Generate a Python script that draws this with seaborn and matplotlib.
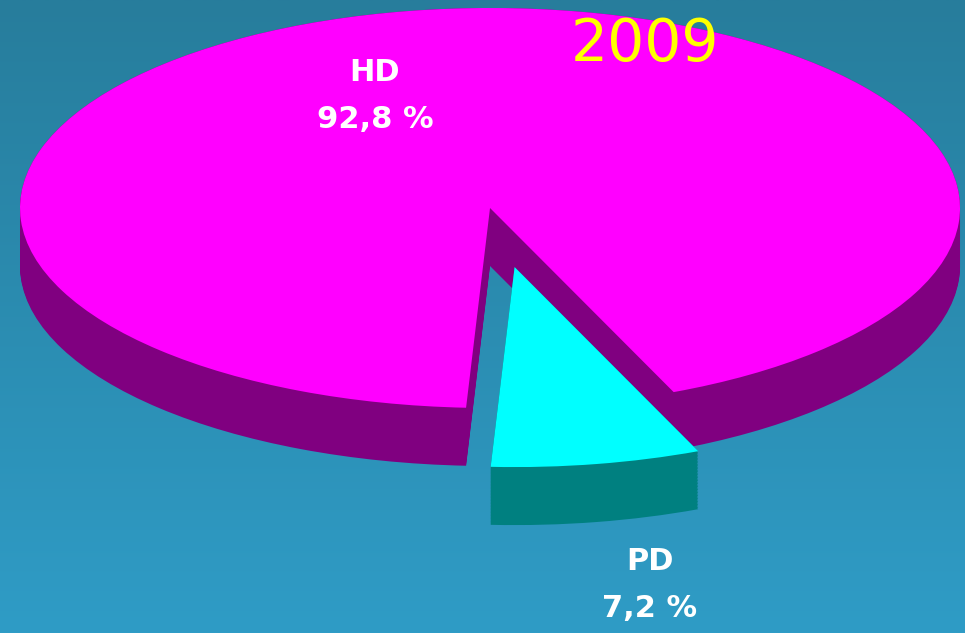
import numpy as np
import matplotlib
matplotlib.use("Agg")
import matplotlib.pyplot as plt
import seaborn as sns

sns.set_theme(style="white")

# data
categories = ["HD", "PD"]
shares = [92.8, 7.2]
share_labels = ["92,8 %", "7,2 %"]
year = "2009"

top_colors = ["#FF00FF", "#00FFFF"]
side_colors = ["#800080", "#008080"]
explode = [0, 0.3]

fig = plt.figure(figsize=(9.65, 6.33), dpi=100)
ax = fig.add_axes([0, 0, 1, 1])

# background gradient (darker teal on top, lighter blue at the bottom)
grad = np.linspace(0, 1, 256)[:, None]
cmap = matplotlib.colors.LinearSegmentedColormap.from_list(
    "bg", ["#2F9CC6", "#277D9C"])
xlim = (-1.0426, 1.0106)
ylim = (-2.125, 1.04)
ax.imshow(grad, cmap=cmap, aspect="auto", extent=(*xlim, *ylim),
          zorder=0, origin="lower")

# 3d look: stack the pie downwards for the side walls, then the top face
depth = 0.29
n_layers = 40
for d in np.linspace(depth, 0.0, n_layers):
    ax.pie(shares, explode=explode, startangle=-67, radius=1.0,
           center=(0, -d), colors=side_colors,
           wedgeprops=dict(linewidth=0), frame=True)
ax.pie(shares, explode=explode, startangle=-67, radius=1.0,
       center=(0, 0), colors=top_colors,
       wedgeprops=dict(linewidth=0), frame=True)

ax.set_aspect("auto")
ax.set_xlim(*xlim)
ax.set_ylim(*ylim)
ax.axis("off")

lab = dict(color="white", fontsize=22, fontweight="bold", ha="center",
           va="center", linespacing=1.75, transform=fig.transFigure)
ax.text(375 / 965, 1 - 96 / 633, f"{categories[0]}\n{share_labels[0]}", **lab)
ax.text(650 / 965, 1 - 585 / 633, f"{categories[1]}\n{share_labels[1]}", **lab)
ax.text(645 / 965, 1 - 45 / 633, year, color="#FFFF00", fontsize=42,
        ha="center", va="center", transform=fig.transFigure)

fig.savefig("out.png", dpi=100)
